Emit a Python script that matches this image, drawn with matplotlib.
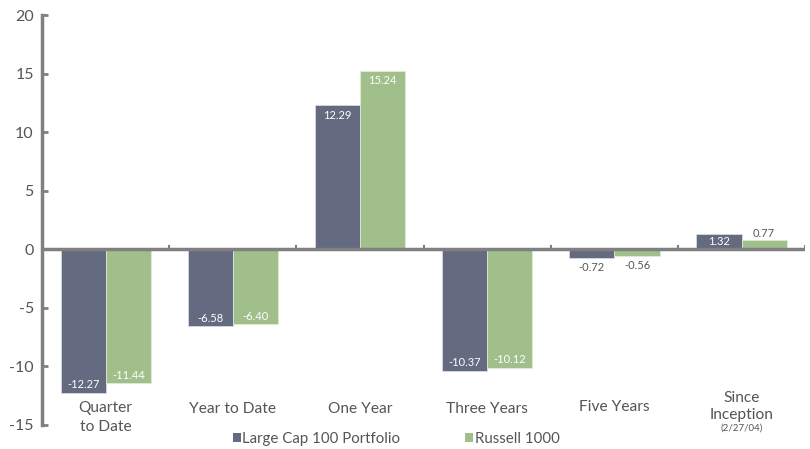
import matplotlib
matplotlib.use("Agg")
import matplotlib.pyplot as plt
from matplotlib.patches import Patch
import numpy as np

categories = ["Quarter\nto Date", "Year to Date", "One Year", "Three Years", "Five Years", "Since\nInception"]
portfolio = [-12.27, -6.58, 12.29, -10.37, -0.72, 1.32]
russell = [-11.44, -6.40, 15.24, -10.12, -0.56, 0.77]
series_names = ["Large Cap 100 Portfolio", "Russell 1000"]
yticks = [-15, -10, -5, 0, 5, 10, 15, 20]

dark = "#646a80"
green = "#a0bf8a"
grey = "#808080"
txt = "#555555"

plt.rcParams["font.family"] = ["Lato", "DejaVu Sans"]

fig = plt.figure(figsize=(8.1, 4.49), dpi=100)
ax = fig.add_axes([0.052, 0.0535, 0.942, 0.913])

x = np.arange(len(categories))
w = 0.355
b1 = ax.bar(x - w / 2, portfolio, w, color=dark, edgecolor="#dde0e8", linewidth=0.5)
b2 = ax.bar(x + w / 2, russell, w, color=green, edgecolor="#e4eedc", linewidth=0.5)

# valeurs sur les barres
for bars, vals in [(b1, portfolio), (b2, russell)]:
    for bar, v in zip(bars, vals):
        cx = bar.get_x() + bar.get_width() / 2
        if abs(v) < 1:
            off = -0.85 if v < 0 else 0.6
            ax.text(cx, v + off, f"{v:.2f}", ha="center", va="center", fontsize=8, color=txt)
        elif abs(v) < 2:
            ax.text(cx, v / 2, f"{v:.2f}", ha="center", va="center", fontsize=8, color="white")
        else:
            off = 0.7 if v < 0 else -0.85
            ax.text(cx, v + off, f"{v:.2f}", ha="center", va="center", fontsize=8, color="white")

ax.set_xlim(-0.5, len(categories) - 0.5)
ax.set_ylim(-15, 20)
ax.set_yticks(yticks)
ax.set_yticklabels([str(t) for t in yticks], fontsize=11.5, color=txt)
ax.tick_params(axis="y", direction="in", length=4, width=2, color=grey, pad=6)
ax.set_xticks([])

for s in ["top", "right", "bottom"]:
    ax.spines[s].set_visible(False)
ax.spines["left"].set_color(grey)
ax.spines["left"].set_linewidth(2.5)

ax.axhline(0, color=grey, linewidth=2.5, zorder=3)
for b in np.arange(0.5, len(categories), 1.0):
    ax.plot([b, b], [0, 0.3], color=grey, linewidth=1.5, zorder=3)

# etiquettes des categories
label_y = [-14.34, -13.66, -13.66, -13.66, -13.5, -13.45]
spacing = [1.45, 1.2, 1.2, 1.2, 1.2, 1.25]
for xi, lab, ly, ls in zip(x, categories, label_y, spacing):
    ax.text(xi, ly, lab, ha="center", va="center", fontsize=11.2, color=txt,
            linespacing=ls, clip_on=False)
ax.text(x[-1], -15.28, "(2/27/04)", ha="center", va="center", fontsize=7, color=txt, clip_on=False)

handles = [Patch(facecolor=dark), Patch(facecolor=green)]
fig.legend(handles, series_names, loc="center", bbox_to_anchor=(0.489, 0.022), ncol=2,
           frameon=False, fontsize=10.8, handlelength=0.55, handleheight=0.55,
           handletextpad=0.1, columnspacing=4.3, labelcolor=txt)

fig.savefig("out.png", dpi=100)
